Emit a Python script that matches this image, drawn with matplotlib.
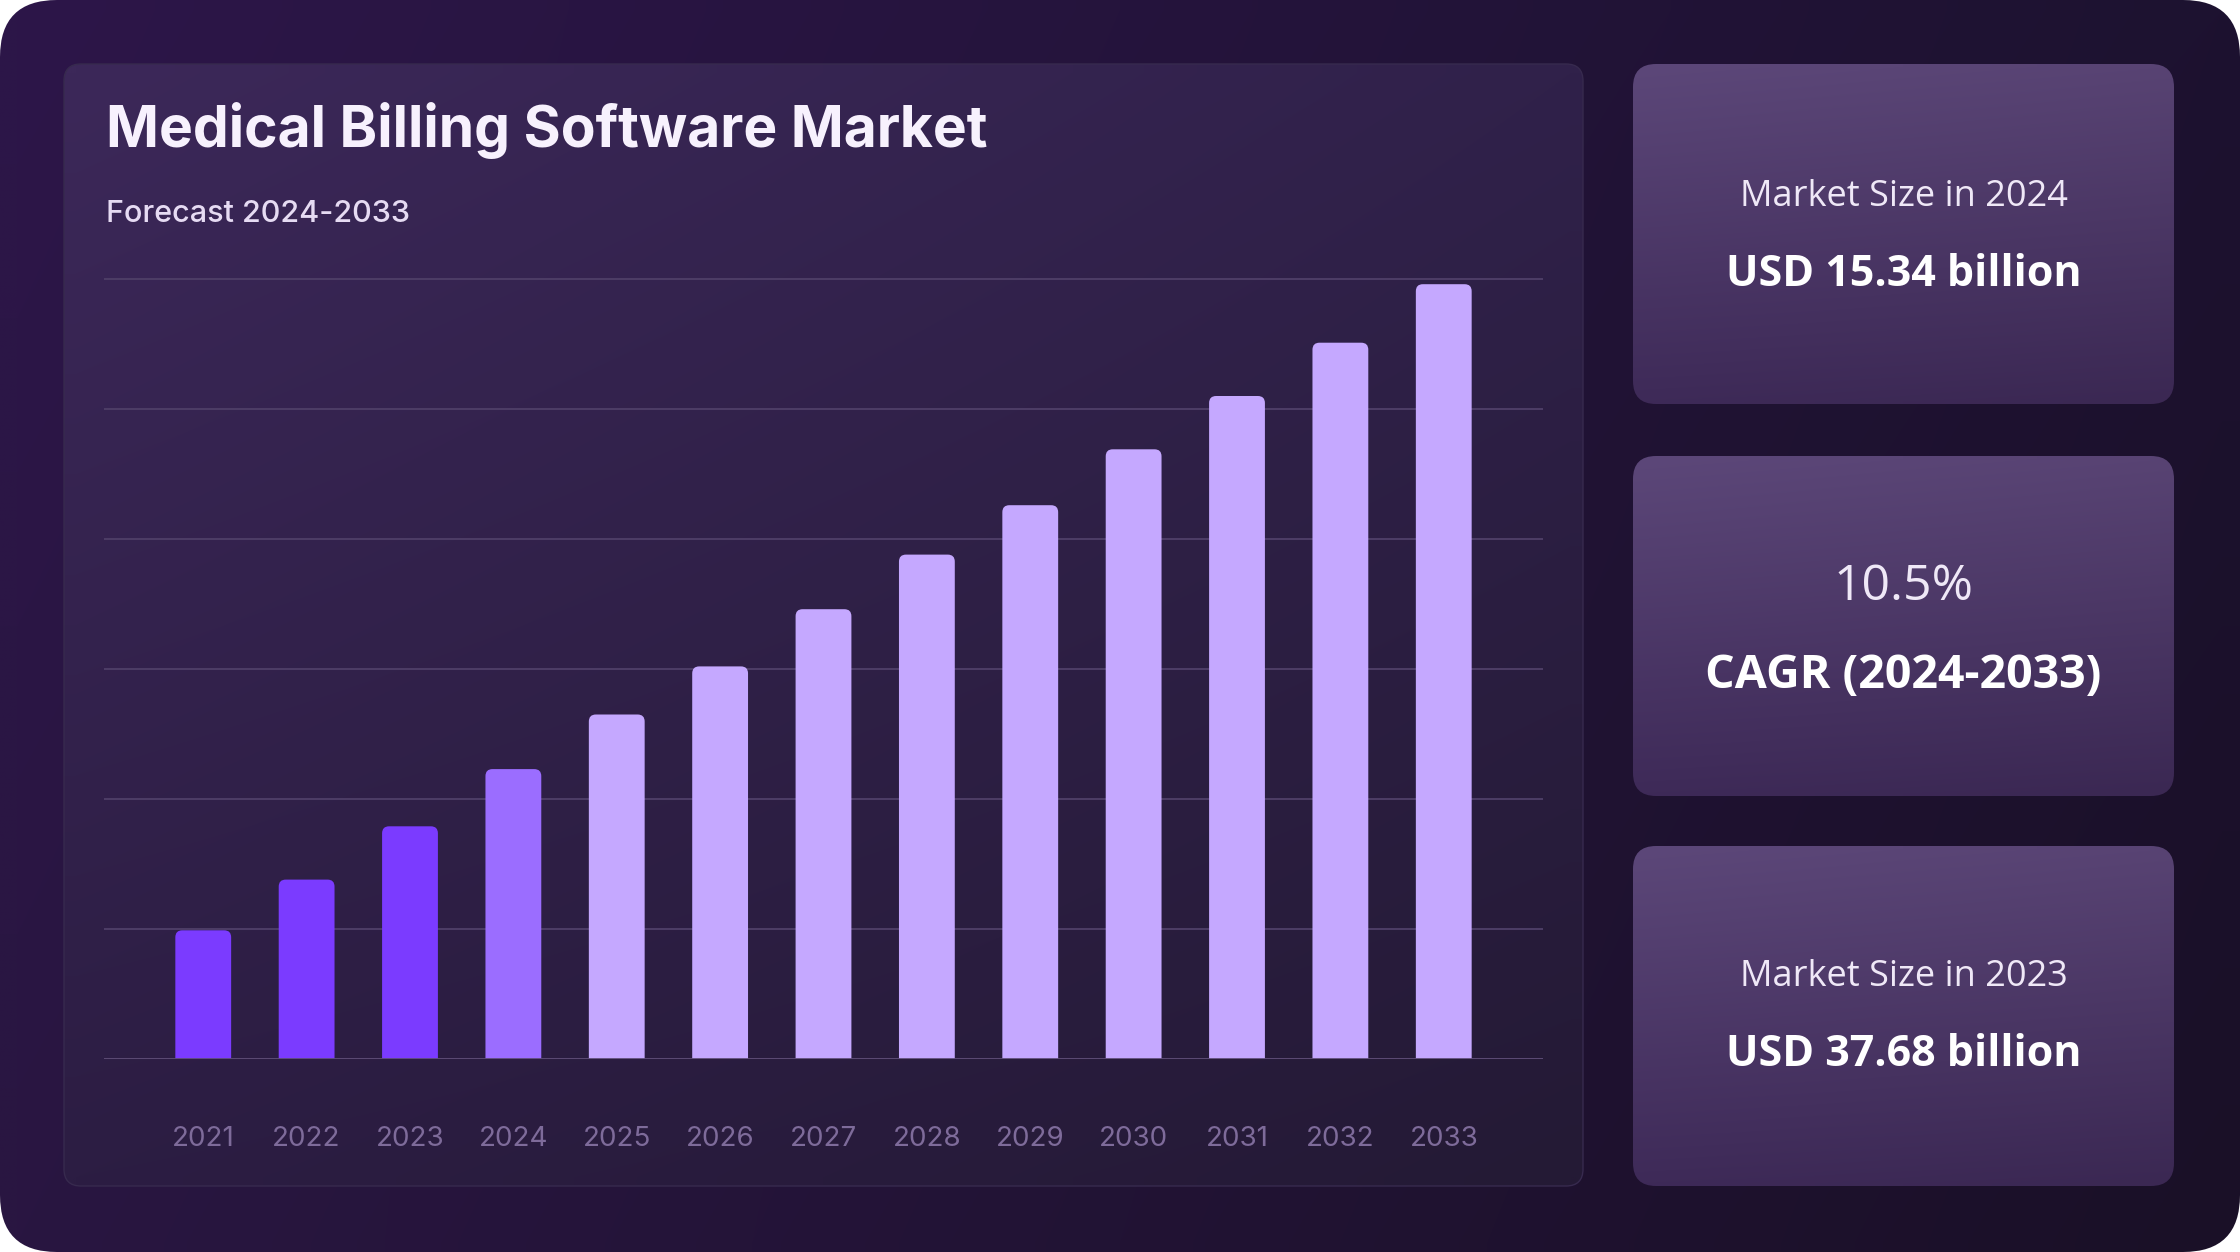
import matplotlib.pyplot as plt
import numpy as np
from matplotlib.colors import to_rgb
from matplotlib.patches import FancyBboxPatch

# chart data (relative bar heights, grid step = 10)
years = ['2021', '2022', '2023', '2024', '2025', '2026', '2027',
         '2028', '2029', '2030', '2031', '2032', '2033']
market_values = [9.9, 13.8, 17.9, 22.3, 26.5, 30.2, 34.6,
                 38.8, 42.6, 46.9, 51.0, 55.1, 59.6]
phases = ['history', 'history', 'history', 'base', 'forecast', 'forecast', 'forecast',
          'forecast', 'forecast', 'forecast', 'forecast', 'forecast', 'forecast']

title = 'Medical Billing Software Market'
subtitle = 'Forecast 2024-2033'
card_heads = ['Market Size in 2024', '10.5%', 'Market Size in 2023']
card_values = ['USD 15.34 billion', 'CAGR (2024-2033)', 'USD 37.68 billion']

phase_colors = {'history': '#7b3bff', 'base': '#9b6dff', 'forecast': '#c5a8ff'}

W, H = 2240, 1252
fig = plt.figure(figsize=(W / 100, H / 100), dpi=100)
fig.patch.set_facecolor('white')

bg = fig.add_axes([0, 0, 1, 1])
bg.set_xlim(0, W)
bg.set_ylim(H, 0)
bg.axis('off')


def gradient_box(x, y, w, h, r, tl, tr, bl, br, z=0, edge=None):
    """Rounded box filled with a bilinear gradient between four corner colours."""
    box = FancyBboxPatch((x, y), w, h, boxstyle=f'round,pad=0,rounding_size={r}',
                         facecolor='none', edgecolor='none', transform=bg.transData)
    bg.add_patch(box)
    tx = np.linspace(0, 1, 64)[None, :, None]
    ty = np.linspace(0, 1, 64)[:, None, None]
    c = [np.array(to_rgb(v))[None, None, :] for v in (tl, tr, bl, br)]
    img = (c[0] * (1 - tx) * (1 - ty) + c[1] * tx * (1 - ty)
           + c[2] * (1 - tx) * ty + c[3] * tx * ty)
    im = bg.imshow(img, extent=(x, x + w, y + h, y), origin='upper',
                   interpolation='bilinear', zorder=z, aspect='auto')
    im.set_clip_path(box)
    if edge:
        outline = FancyBboxPatch((x, y), w, h, boxstyle=f'round,pad=0,rounding_size={r}',
                                 facecolor='none', edgecolor=edge, lw=1.0, zorder=z + 0.1)
        bg.add_patch(outline)


# outer card, chart panel and the three stat cards
gradient_box(0, 0, W, H, 57, '#2d1649', '#1d1230', '#291641', '#1a1027', z=0)
gradient_box(64, 64, 1519, 1122, 17, '#3c2859', '#30214a', '#2c1d43', '#241a35',
             z=1, edge='#372a4e')
for top in (64, 456, 846):
    gradient_box(1633, top, 541, 340, 23, '#5c4779', '#584373', '#3e2a58', '#3b2853',
                 z=1)

bg.set_xlim(0, W)
bg.set_ylim(H, 0)

bg.text(106, 147, title, fontsize=41, fontweight='bold', family='Inter',
        color='#f7f1fd', va='baseline', ha='left', zorder=5)
bg.text(106, 222, subtitle, fontsize=22, family='Inter', fontweight='medium',
        color='#e6dbf3', va='baseline', ha='left', zorder=5)

cx = 1633 + 541 / 2
head_y = [197, 587, 977]
value_y = [274, 675, 1054]
head_size = [26, 36, 26]
value_size = [31, 33.5, 31]
for head, value, hy, vy, hs, vs in zip(card_heads, card_values, head_y, value_y,
                                       head_size, value_size):
    bg.text(cx, hy, head, fontsize=hs, family='Open Sans', fontweight='normal',
            color='#efe8f7', ha='center', va='center', zorder=5)
    bg.text(cx, vy, value, fontsize=vs, family='Open Sans', fontweight='bold',
            color='#ffffff', ha='center', va='center', zorder=5)

# bar chart
ax_left, ax_right = 104, 1543
ax_bottom, ax_top = 1059, 272.5
ax = fig.add_axes([ax_left / W, 1 - ax_bottom / H,
                   (ax_right - ax_left) / W, (ax_bottom - ax_top) / H])
ax.patch.set_alpha(0)
x = np.arange(len(years))
ax.set_xlim(-0.96, len(years) - 1 + 0.96)
ax.set_ylim(0, 60.5)

px_per_x = (ax_right - ax_left) / (ax.get_xlim()[1] - ax.get_xlim()[0])
px_per_y = (ax_bottom - ax_top) / (ax.get_ylim()[1] - ax.get_ylim()[0])
radius_px = 7
bar_w = 0.54
for xi, val, ph in zip(x, market_values, phases):
    bar = FancyBboxPatch((xi - bar_w / 2, -3), bar_w, val + 3,
                         boxstyle=f'round,pad=0,rounding_size={radius_px / px_per_x}',
                         mutation_aspect=px_per_x / px_per_y,
                         facecolor=phase_colors[ph], edgecolor='none', zorder=3)
    ax.add_patch(bar)

ax.set_yticks(np.arange(0, 61, 10))
ax.grid(axis='y', color='#4d3d66', lw=1.4, zorder=0)
ax.axhline(0, color='#5c4b74', lw=2, zorder=4)
ax.set_axisbelow(True)
ax.tick_params(axis='y', left=False, labelleft=False)
ax.set_xticks(x)
ax.set_xticklabels(years, family='Inter', fontsize=20, color='#7e6b9a')
ax.tick_params(axis='x', length=0, pad=48)
for s in ax.spines.values():
    s.set_visible(False)

fig.savefig('out.png', dpi=100, facecolor='white')
